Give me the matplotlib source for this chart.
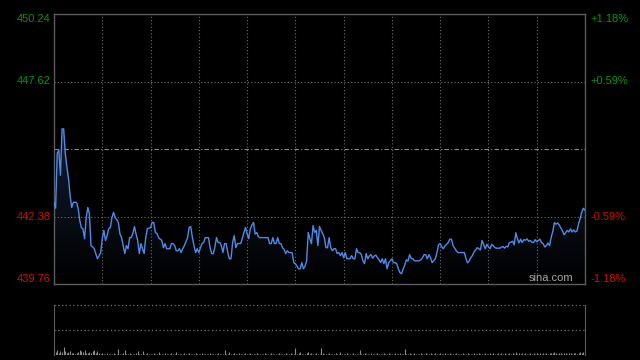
import numpy as np
import matplotlib.pyplot as plt
from matplotlib.colors import LinearSegmentedColormap
from matplotlib.transforms import blended_transform_factory

prev_close = 445.00
price_labels = [450.24, 447.62, 442.38, 439.76]
pct_labels = ["+1.18%", "+0.59%", "-0.59%", "-1.18%"]

# one price per minute
price = [
    442.93, 442.70, 444.84, 444.96, 443.98, 445.78, 445.78, 444.84, 444.30, 443.87,
    443.20, 442.73, 442.93, 442.93, 442.93, 442.70, 442.23, 441.95, 441.90, 441.52,
    442.34, 442.73, 442.50, 441.25, 441.20, 441.13, 440.94, 440.74, 440.85, 440.98,
    441.52, 441.84, 441.45, 441.64, 441.91, 441.95, 442.34, 442.54, 442.34, 442.25,
    442.15, 441.70, 441.56, 441.25, 440.94, 441.25, 441.13, 441.56, 441.56, 441.72,
    441.99, 441.70, 441.45, 440.94, 441.33, 441.13, 440.94, 441.56, 441.91, 441.93,
    441.95, 442.15, 442.15, 441.76, 441.72, 441.56, 441.50, 441.45, 441.17, 441.33,
    441.13, 441.13, 441.13, 441.33, 441.33, 441.25, 441.05, 441.05, 441.13, 440.98,
    441.13, 441.25, 441.40, 441.56, 441.95, 441.99, 441.56, 441.25, 440.98, 441.13,
    440.98, 441.17, 441.33, 441.37, 441.56, 441.56, 441.56, 441.17, 440.94, 440.94,
    441.20, 441.56, 441.37, 441.37, 441.25, 440.98, 441.33, 441.33, 440.98, 440.74,
    440.74, 441.37, 441.64, 441.17, 441.33, 441.33, 441.33, 441.52, 441.76, 441.95,
    441.72, 441.52, 441.91, 442.05, 442.15, 441.70, 441.76, 441.60, 441.56, 441.56,
    441.56, 441.56, 441.56, 441.56, 441.33, 441.33, 441.56, 441.33, 441.33, 441.56,
    441.33, 441.33, 441.17, 441.10, 440.94, 441.05, 440.98, 440.98, 440.98, 440.59,
    440.55, 440.45, 440.35, 440.35, 440.59, 440.35, 440.45, 440.65, 441.76, 441.52,
    441.33, 442.03, 441.76, 441.84, 441.25, 441.99, 441.84, 441.72, 441.56, 441.17,
    441.17, 441.56, 441.17, 441.05, 441.13, 441.13, 440.94, 440.98, 440.86, 440.98,
    440.78, 440.98, 440.74, 440.74, 440.74, 440.86, 440.74, 440.74, 441.13, 440.98,
    440.98, 440.90, 440.66, 440.55, 440.94, 440.74, 440.85, 440.90, 440.76, 440.85,
    440.88, 440.78, 440.70, 440.59, 440.74, 440.55, 440.74, 440.35, 440.59, 440.66,
    440.74, 440.59, 440.59, 440.55, 440.35, 440.20, 440.16, 440.35, 440.50, 440.70,
    440.65, 440.90, 440.75, 440.74, 440.66, 440.66, 440.66, 440.66, 440.70, 440.78,
    440.90, 440.90, 440.74, 440.90, 440.78, 440.59, 440.66, 440.74, 440.98, 441.28,
    441.33, 441.20, 441.13, 441.25, 441.30, 441.37, 441.50, 441.50, 441.25, 441.15,
    441.05, 440.98, 440.98, 440.98, 440.98, 440.98, 440.75, 440.58, 440.65, 440.78,
    440.86, 441.00, 441.08, 441.17, 441.13, 441.08, 441.45, 441.30, 441.13, 441.30,
    441.20, 441.13, 441.30, 441.25, 441.17, 441.15, 441.15, 441.15, 441.18, 441.22,
    441.15, 441.22, 441.20, 441.37, 441.38, 441.42, 441.28, 441.75, 441.52, 441.36,
    441.50, 441.37, 441.48, 441.46, 441.51, 441.42, 441.45, 441.38, 441.37, 441.48,
    441.40, 441.45, 441.50, 441.37, 441.32, 441.20, 441.25, 441.35, 441.25, 441.58,
    441.80, 442.15, 442.08, 442.13, 442.05, 441.93, 441.83, 441.67, 441.76, 441.84,
    441.78, 441.90, 441.78, 441.86, 441.78, 441.82, 442.10, 442.30, 442.55, 442.70, 442.62,
]

volume = [
    8, 3, 5, 2, 4, 3, 8, 4, 2, 3,
    4, 2, 2, 1, 2, 3, 5, 4, 3, 5,
    2, 2, 3, 2, 4, 5, 2, 4, 2, 1,
    2, 1, 1, 2, 1, 1, 1, 2, 1, 1,
    6, 1, 1, 2, 5, 1, 1, 2, 1, 1,
    1, 2, 4, 1, 1, 4, 1, 1, 2, 1,
    1, 1, 2, 1, 1, 3, 1, 1, 1, 2,
    1, 1, 1, 2, 1, 1, 3, 1, 1, 1,
    1, 2, 1, 1, 2, 1, 1, 1, 2, 1,
    1, 1, 2, 1, 1, 1, 1, 2, 1, 1,
    1, 1, 2, 1, 1, 1, 5, 1, 1, 3,
    1, 1, 2, 1, 1, 2, 1, 1, 1, 2,
    1, 1, 2, 1, 1, 1, 2, 1, 1, 1,
    1, 2, 1, 1, 1, 2, 1, 1, 1, 1,
    2, 1, 1, 1, 2, 1, 1, 2, 1, 1,
    7, 1, 2, 3, 1, 1, 1, 2, 3, 1,
    2, 1, 1, 2, 1, 1, 7, 2, 1, 1,
    1, 2, 1, 1, 1, 2, 1, 1, 3, 1,
    1, 1, 2, 1, 1, 1, 2, 1, 1, 1,
    5, 1, 1, 2, 1, 1, 1, 2, 1, 1,
    1, 2, 1, 1, 1, 2, 1, 1, 2, 1,
    1, 1, 2, 1, 1, 2, 1, 1, 6, 1,
    1, 2, 1, 1, 2, 1, 1, 1, 2, 1,
    1, 2, 1, 1, 2, 1, 1, 2, 1, 1,
    2, 1, 1, 2, 1, 1, 2, 1, 1, 1,
    2, 1, 1, 1, 2, 1, 1, 2, 1, 1,
    1, 2, 1, 1, 2, 1, 1, 1, 2, 1,
    1, 2, 1, 2, 1, 1, 2, 1, 2, 1,
    2, 1, 1, 2, 1, 2, 1, 3, 1, 2,
    1, 2, 1, 2, 1, 1, 2, 1, 2, 1,
    2, 1, 2, 1, 2, 1, 2, 1, 2, 2,
    2, 3, 2, 1, 2, 2, 1, 2, 2, 1,
    2, 2, 1, 2, 2, 1, 2, 3, 2, 3, 3,
]

n_min = 330
minutes = np.arange(len(price))
vmin = np.arange(len(volume))
frame = "#5c5c5c"
grid = "#6e6e6e"
green = "#0c930c"
red = "#c81200"

plt.rcParams["font.family"] = ["Liberation Sans", "DejaVu Sans"]

fig = plt.figure(figsize=(6.4, 3.6), dpi=100, facecolor="black")
ax = fig.add_axes([54 / 640, 1 - 284 / 360, 531 / 640, 270 / 360])
axv = fig.add_axes([54 / 640, 5 / 360, 531 / 640, 50 / 360])

# price panel
ax.set_facecolor("black")
for s in ax.spines.values():
    s.set_color(frame)
    s.set_linewidth(1)

for m in range(30, n_min, 30):
    ax.axvline(m, color=grid, lw=0.8, ls=(0, (1, 2)), zorder=2)
for y in (price_labels[1], price_labels[2]):
    ax.axhline(y, color=grid, lw=0.8, ls=(0, (1, 2)), zorder=2)
ax.axhline(prev_close, color="#8a8a8a", lw=0.8, ls=(0, (4, 2, 1, 2)), zorder=2)

cmap = LinearSegmentedColormap.from_list("fade", ["#000000", "#131d31"])
img = ax.imshow(np.linspace(0, 1, 100).reshape(-1, 1), cmap=cmap, origin="lower",
                aspect="auto", extent=[0, n_min, price_labels[3], max(price)], zorder=1)
poly = ax.fill_between(minutes, price, price_labels[3], facecolor="none", edgecolor="none")
img.set_clip_path(poly.get_paths()[0], ax.transData)

ax.plot(minutes, price, color="#4f8be6", lw=1.0, zorder=3)

ax.set_xlim(0, n_min)
ax.set_ylim(price_labels[3], price_labels[0])
ax.set_xticks([])
ax.set_yticks([])

trans = blended_transform_factory(ax.transAxes, ax.transData)
vas = ["top", "center", "center", "bottom"]
cols = [green, green, red, red]
for val, pct, va, c in zip(price_labels, pct_labels, vas, cols):
    ax.text(-0.006, val, f"{val:.2f}", transform=trans, ha="right", va=va,
            color=c, fontsize=8)
    ax.text(1.01, val, pct, transform=trans, ha="left", va=va,
            color=c, fontsize=8)

ax.text(0.978, 0.004, "sina.com", transform=ax.transAxes, ha="right", va="bottom",
        color="#a8a8a8", fontsize=8)

# volume panel
axv.set_facecolor("black")
for side in ("top", "bottom"):
    axv.spines[side].set_visible(False)
for side in ("left", "right"):
    axv.spines[side].set_color(frame)
axv.axhline(50, color=grid, lw=0.9, ls=(0, (1, 2)), clip_on=False)
axv.axhline(25, color=grid, lw=0.9, ls=(0, (1, 2)))
axv.vlines(vmin, 0, volume, color="#8c8c8c", lw=0.8)
axv.set_xlim(0, n_min)
axv.set_ylim(0, 50)
axv.set_xticks([])
axv.set_yticks([])

fig.savefig("out.png", dpi=100, facecolor="black")
